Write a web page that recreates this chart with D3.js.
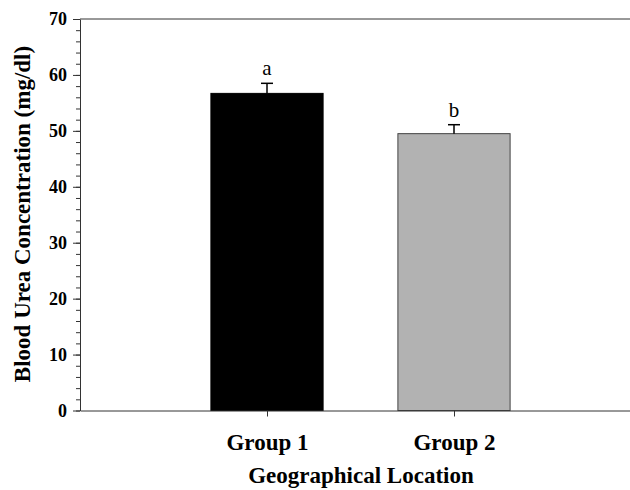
<!DOCTYPE html>
<meta charset="utf-8">
<script src="https://cdn.jsdelivr.net/npm/d3@7"></script>
<style>
body { margin: 0; background: #fff; }
text { font-family: "Liberation Serif", "Times New Roman", serif; }
.axis path, .axis line { stroke: #333; }
</style>
<body>
<script>

// data
var groups = ["Group 1", "Group 2"];
var means = [56.7, 49.5];
var errors = [1.8, 1.6];
var letters = ["a", "b"];
var fills = ["#000000", "#b2b2b2"];
var yTicks = [0, 10, 20, 30, 40, 50, 60, 70];

var width = 630,
    height = 490;

var svg = d3.select("body").append("svg")
    .attr("width", width)
    .attr("height", height);

// x is a plain linear scale, groups sit at 1 and 2
var xscale = d3.scaleLinear()
    .domain([0, 3])
    .range([80, 641]);

var yscale = d3.scaleLinear()
    .domain([0, 70])
    .range([410.5, 19]);

var barW = xscale(0.6) - xscale(0);

// minor ticks every 2
var yMinor = svg.append("g")
    .attr("class", "axis")
    .attr("transform", "translate(80,0)")
    .call(d3.axisLeft(yscale).tickValues(d3.range(0, 71, 2)).tickSize(4).tickFormat(""));
yMinor.select(".domain").remove();

var yAxis = svg.append("g")
    .attr("class", "axis")
    .attr("transform", "translate(80,0)")
    .call(d3.axisLeft(yscale).tickValues(yTicks).tickSize(7).tickSizeOuter(0).tickPadding(6));
yAxis.selectAll("text")
    .style("font-size", "18px")
    .style("font-weight", "bold")
    .attr("fill", "#000");

// top frame line
svg.append("line")
    .attr("x1", 80).attr("x2", width)
    .attr("y1", yscale(70)).attr("y2", yscale(70))
    .attr("stroke", "#333");

// bars
svg.selectAll(".bar")
    .data(means)
    .enter().append("rect")
    .attr("x", function(d, i) { return xscale(i + 1) - barW / 2; })
    .attr("y", function(d) { return yscale(d); })
    .attr("width", barW)
    .attr("height", function(d) { return yscale(0) - yscale(d); })
    .attr("fill", function(d, i) { return fills[i]; })
    .attr("stroke", function(d, i) { return i == 0 ? "#000" : "#444"; })
    .attr("stroke-width", 1);

// upper error bars only
var eb = svg.selectAll(".err")
    .data(means)
    .enter().append("g");
eb.append("line")
    .attr("x1", function(d, i) { return xscale(i + 1); })
    .attr("x2", function(d, i) { return xscale(i + 1); })
    .attr("y1", function(d) { return yscale(d); })
    .attr("y2", function(d, i) { return yscale(d + errors[i]); })
    .attr("stroke", "#000").attr("stroke-width", 1.5);
eb.append("line")
    .attr("x1", function(d, i) { return xscale(i + 1) - 6; })
    .attr("x2", function(d, i) { return xscale(i + 1) + 6; })
    .attr("y1", function(d, i) { return yscale(d + errors[i]); })
    .attr("y2", function(d, i) { return yscale(d + errors[i]); })
    .attr("stroke", "#000").attr("stroke-width", 1.5);

// significance letters
svg.selectAll(".letter")
    .data(letters)
    .enter().append("text")
    .attr("x", function(d, i) { return xscale(i + 1); })
    .attr("y", function(d, i) { return yscale(means[i] + errors[i]) - 8; })
    .attr("text-anchor", "middle")
    .style("font-size", "21px")
    .text(function(d) { return d; });

// x axis
var xAxis = svg.append("g")
    .attr("class", "axis")
    .attr("transform", "translate(0," + yscale(0) + ")")
    .call(d3.axisBottom(xscale).tickValues([1, 2]).tickSize(6).tickSizeOuter(0)
        .tickPadding(17)
        .tickFormat(function(d) { return groups[d - 1]; }));
xAxis.selectAll("text")
    .style("font-size", "23px")
    .style("font-weight", "bold")
    .attr("fill", "#000");

// axis titles
svg.append("text")
    .attr("x", 361)
    .attr("y", 483)
    .attr("text-anchor", "middle")
    .style("font-size", "23px")
    .style("font-weight", "bold")
    .text("Geographical Location");

svg.append("text")
    .attr("transform", "translate(30,214) rotate(-90)")
    .attr("text-anchor", "middle")
    .style("font-size", "23px")
    .style("font-weight", "bold")
    .text("Blood Urea Concentration (mg/dl)");

</script>
</body>
